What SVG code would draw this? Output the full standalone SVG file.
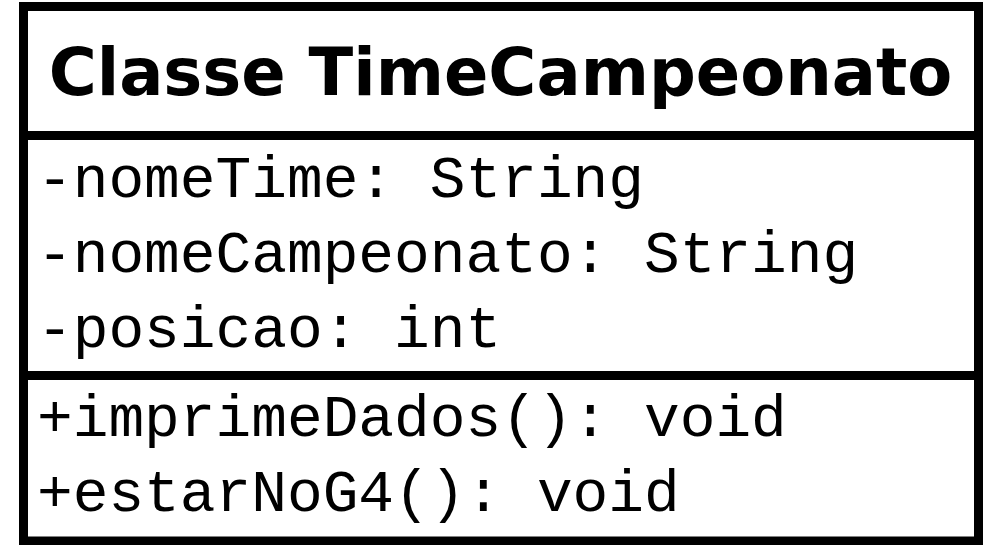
<svg xmlns="http://www.w3.org/2000/svg" width="1000" height="545" viewBox="0 0 1000 545">
<style>
.box{fill:#fff;stroke:#000;stroke-width:9}
.div{stroke:#000;stroke-width:9}
.title{font-family:"DejaVu Sans",Verdana,sans-serif;font-weight:bold;font-size:65.5px;fill:#000}
.mono{font-family:"Courier New",Courier,"Nimbus Mono PS","Nimbus Mono L",FreeMono,"Liberation Mono",monospace;font-size:59.5px;fill:#000}
</style>
<rect width="1000" height="545" fill="#fff"/>
<g id="class-TimeCampeonato">
<rect class="box" x="23.5" y="6.5" width="955" height="534.5"/>
<line class="div" x1="23.5" y1="135.5" x2="978.5" y2="135.5"/>
<line class="div" x1="23.5" y1="375.5" x2="978.5" y2="375.5"/>
<text class="title" x="500.5" y="95" text-anchor="middle">Classe TimeCampeonato</text>
<text class="mono" x="37" y="197">-nomeTime: String</text>
<text class="mono" x="37" y="272">-nomeCampeonato: String</text>
<text class="mono" x="37" y="347">-posicao: int</text>
<text class="mono" x="37" y="436">+imprimeDados(): void</text>
<text class="mono" x="37" y="511">+estarNoG4(): void</text>
</g>
<g id="connectors"></g>
</svg>
